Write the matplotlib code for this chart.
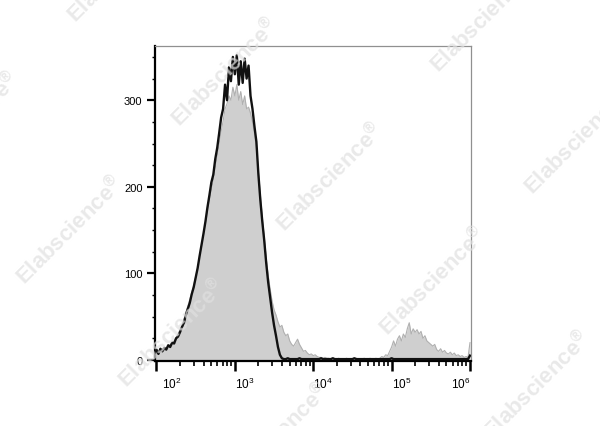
import numpy as np
import matplotlib
matplotlib.use("Agg")
import matplotlib.pyplot as plt
import matplotlib.transforms as mtransforms
from matplotlib.ticker import MultipleLocator, LogLocator

plt.rcParams['font.family'] = ['Liberation Sans', 'DejaVu Sans']
plt.rcParams['mathtext.default'] = 'regular'

# channel positions (log10 of intensity), one every 0.025 decade
log_x = np.round(np.arange(1.975, 6.0001, 0.025), 3)

# stained sample (black outline), rows of 8 channels
stained = [
    8, 12, 7, 13, 10, 14, 12, 17,            # 1.975
    15, 20, 19, 25, 27, 32, 38, 43,          # 2.175
    52, 59, 66, 76, 84, 95, 106, 120,        # 2.375
    133, 146, 160, 176, 190, 205, 214, 232,  # 2.575
    245, 262, 280, 290, 318, 300, 338, 322,  # 2.775
    350, 330, 352, 318, 345, 320, 348, 325,  # 2.975
    340, 305, 290, 270, 252, 215, 185, 160,  # 3.175
    138, 112, 90, 72, 55, 40, 28, 15,        # 3.375
    6, 2, 1, 1, 2, 1, 1, 1,                  # 3.575
    1, 1, 2, 1, 1, 1, 1, 1,                  # 3.775
    1, 1, 1, 1, 1, 2, 1, 1,                  # 3.975
    1, 1, 1, 2, 1, 1, 1, 1,                  # 4.175
    1, 1, 1, 1, 1, 1, 2, 1,                  # 4.375
    1, 1, 1, 1, 1, 1, 1, 1,                  # 4.575
    1, 1, 1, 1, 1, 1, 1, 1,                  # 4.775
    1, 2, 1, 1, 1, 1, 1, 1,                  # 4.975
    1, 1, 1, 1, 1, 1, 1, 1,                  # 5.175
    1, 1, 1, 1, 1, 1, 1, 1,                  # 5.375
    1, 1, 1, 1, 1, 1, 1, 1,                  # 5.575
    1, 1, 1, 1, 1, 1, 1, 1,                  # 5.775
    1, 5,                                    # 5.975
]

# control (grey filled)
control = [
    5, 8, 10, 9, 12, 11, 14, 15,             # 1.975
    18, 19, 22, 26, 30, 35, 40, 46,          # 2.175
    55, 62, 70, 78, 86, 96, 106, 118,        # 2.375
    130, 143, 156, 170, 184, 196, 208, 222,  # 2.575
    236, 250, 264, 276, 290, 296, 305, 300,  # 2.775
    315, 305, 318, 300, 310, 295, 305, 290,  # 2.975
    292, 285, 275, 262, 245, 218, 190, 165,  # 3.175
    142, 118, 98, 82, 68, 58, 52, 44,        # 3.375
    38, 40, 32, 28, 30, 22, 18, 16,          # 3.575
    20, 24, 18, 14, 10, 11, 8, 6,            # 3.775
    7, 5, 6, 4, 3, 3, 2, 3,                  # 3.975
    2, 2, 1, 2, 1, 1, 2, 1,                  # 4.175
    1, 1, 2, 1, 1, 1, 1, 2,                  # 4.375
    1, 1, 1, 2, 1, 1, 2, 1,                  # 4.575
    1, 2, 1, 2, 4, 3, 6, 5,                  # 4.775
    10, 15, 22, 16, 24, 28, 22, 30,          # 4.975
    26, 36, 43, 30, 36, 32, 35, 30,          # 5.175
    33, 25, 28, 22, 20, 18, 16, 18,          # 5.375
    12, 10, 13, 9, 11, 8, 7, 9,              # 5.575
    6, 8, 5, 6, 4, 5, 3, 4,                  # 5.775
    3, 20,                                   # 5.975
]

# watermark centres, in pixels from top-left of the image
wm_x = [121, 225, 330, 433, 537, 484, 578, 70, 172, 276, -34]
wm_y = [-32, 72, 177, 281, 385, 18, 140, 230, 333, 437, 126]

x = 10 ** log_x

fig = plt.figure(figsize=(6, 4.27), dpi=100)
ax = fig.add_axes([0.2583, 0.153, 0.5267, 0.7377])

ax.fill_between(x, control, 0, color="#cfcfcf", lw=0, zorder=1)
ax.plot(x, control, color="#b0b0b0", lw=0.8, zorder=1.5)
ax.plot(x, stained, color="#111111", lw=1.7, zorder=3)

ax.set_xscale("log")
ax.set_xlim(10 ** 1.981, 10 ** 6.013)
ax.set_ylim(-0.8, 363)

ax.xaxis.set_major_locator(LogLocator(base=10, numticks=10))
ax.xaxis.set_minor_locator(LogLocator(base=10, subs=np.arange(2, 10), numticks=20))
ax.yaxis.set_major_locator(MultipleLocator(100))
ax.yaxis.set_minor_locator(MultipleLocator(25))

ax.tick_params(axis="y", which="major", length=6, width=1.6, labelsize=8, pad=3)
ax.tick_params(axis="y", which="minor", length=2.5, width=1)
ax.tick_params(axis="x", which="major", length=7, width=1.8, labelsize=8.5, pad=4)
ax.tick_params(axis="x", which="minor", length=3.5, width=1.2)

for s in ["left", "bottom"]:
    ax.spines[s].set_linewidth(1.6)
    ax.spines[s].set_color("black")
for s in ["top", "right"]:
    ax.spines[s].set_linewidth(0.9)
    ax.spines[s].set_color("#909090")

# decade labels sit just right of their tick, the last one ends at it
fig.canvas.draw()
for lab in ax.get_xticklabels():
    v = lab.get_position()[0]
    if v >= 1e6 * 0.99:
        lab.set_ha("right")
    elif v <= 1e2 * 1.01:
        lab.set_ha("left")
        lab.set_transform(lab.get_transform() + mtransforms.ScaledTranslation(4 / 72, 0, fig.dpi_scale_trans))
    else:
        lab.set_ha("left")

for wx, wy in zip(wm_x, wm_y):
    fig.text(wx / 600, 1 - wy / 427, "Elabscience$^{\u00ae}$", rotation=45,
             ha="center", va="center", rotation_mode="anchor",
             fontsize=16, fontweight="bold", color="#e0e0e0", alpha=0.7,
             zorder=10)

fig.savefig("out.png", dpi=100)
